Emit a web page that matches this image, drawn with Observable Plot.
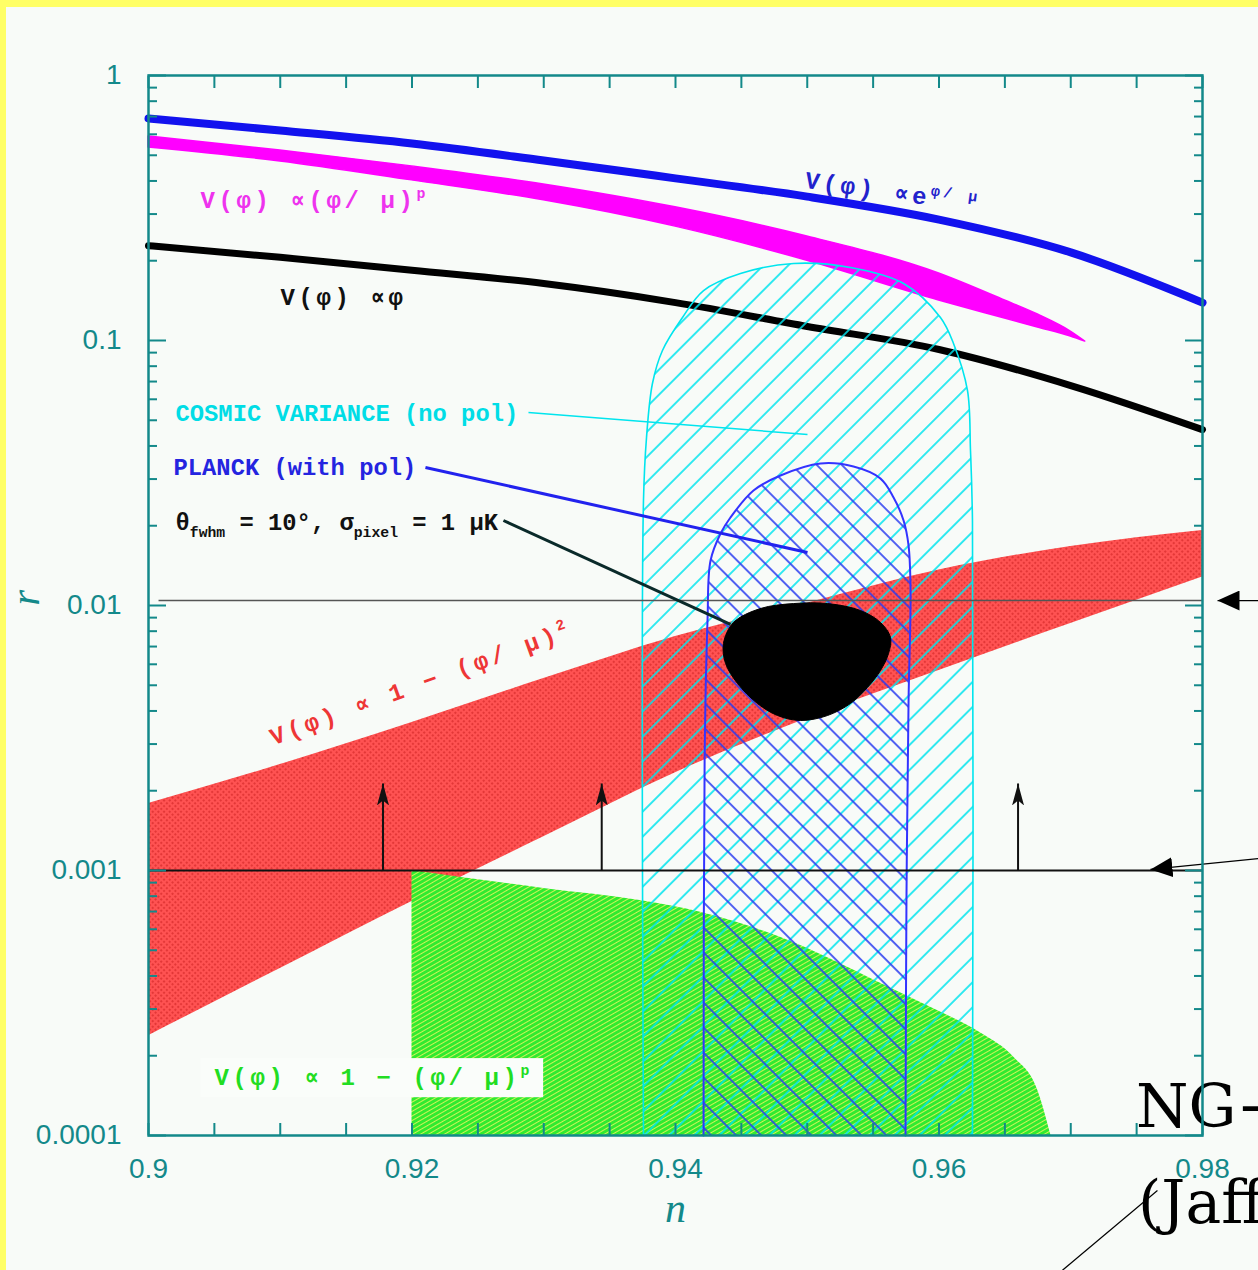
<!DOCTYPE html>
<html><head><meta charset="utf-8">
<script src="https://cdn.jsdelivr.net/npm/d3@7"></script>
<script src="https://cdn.jsdelivr.net/npm/@observablehq/plot@0.6"></script>
<style>
html,body{margin:0;padding:0;overflow:hidden;background:#f8fbf8;}
#wrap{position:relative;width:1258px;height:1270px;overflow:hidden;}
.ys-top{position:absolute;left:0;top:0;width:1258px;height:7px;background:#ffff66;}
.ys-left{position:absolute;left:0;top:0;width:6px;height:1270px;background:#ffff66;}
</style></head><body>
<svg width="0" height="0" style="position:absolute">
<defs>
  <pattern id="hatchCyan" width="17.7" height="17.7" patternUnits="userSpaceOnUse" patternTransform="rotate(45)">
    <line x1="1" y1="0" x2="1" y2="17.7" stroke="#00e5ee" stroke-width="1.6"/>
  </pattern>
  <pattern id="hatchBlue" width="17.7" height="17.7" patternUnits="userSpaceOnUse" patternTransform="rotate(-45)">
    <line x1="1" y1="0" x2="1" y2="17.7" stroke="#2a3cf0" stroke-width="1.6"/>
  </pattern>
  <pattern id="redTex" width="4" height="4" patternUnits="userSpaceOnUse" patternTransform="rotate(45)">
    <rect width="4" height="4" fill="#ff5252"/>
    <circle cx="2" cy="2" r="1.1" fill="#dd3030"/>
  </pattern>
  <pattern id="greenTex" width="4" height="4" patternUnits="userSpaceOnUse" patternTransform="rotate(60)">
    <rect width="4" height="4" fill="#30ea30"/>
    <line x1="0.5" y1="0" x2="0.5" y2="4" stroke="#d0f258" stroke-width="1"/>
  </pattern>
  <marker id="ahSmall" viewBox="0 0 22 12" refX="22" refY="6" markerWidth="22" markerHeight="12" markerUnits="userSpaceOnUse" orient="auto">
    <path d="M0,0L22,6L0,12L5,6Z" fill="#111"/>
  </marker>
  <marker id="ahBig" viewBox="0 0 22 20" refX="22" refY="10" markerWidth="22" markerHeight="20" markerUnits="userSpaceOnUse" orient="auto">
    <path d="M0,0L22,10L0,20Z" fill="#000"/>
  </marker>
</defs>
</svg>
<div id="wrap"><div id="chart"></div><div class="ys-top"></div><div class="ys-left"></div></div>
<script>
// ---------- data (n = spectral index, r = tensor ratio) ----------
const nGrid = [0.90, 0.91, 0.92, 0.93, 0.94, 0.95, 0.96, 0.97, 0.98];
const rExponential = [0.688, 0.620, 0.554, 0.478, 0.409, 0.349, 0.286, 0.215, 0.139];
const rLinear = [0.228, 0.206, 0.184, 0.164, 0.139, 0.113, 0.0925, 0.0676, 0.0461];
const rRedUpper = [0.00179, 0.00251, 0.00362, 0.0053, 0.00764, 0.0102, 0.0136, 0.0167, 0.0192];
const rRedLower = [0.000238, 0.000427, 0.000764, 0.00134, 0.00234, 0.00375, 0.00569, 0.00855, 0.0128];

const nMagenta = [0.90, 0.91, 0.92, 0.93, 0.94, 0.95, 0.96, 0.965, 0.9675, 0.970, 0.9711];
const rMagentaUpper = [0.589, 0.521, 0.454, 0.388, 0.318, 0.247, 0.179, 0.1416, 0.1253, 0.1081, 0.0991];
const rMagentaLower = [0.535, 0.474, 0.402, 0.338, 0.269, 0.200, 0.1416, 0.1211, 0.1120, 0.1035, 0.0991];

const nGreen = [0.92, 0.93, 0.9373, 0.9419, 0.948, 0.9556, 0.9594, 0.9632, 0.9657, 0.9675, 0.9685];
const rGreenTop = [0.001, 0.000855, 0.00077, 0.000695, 0.000559, 0.000375, 0.000304, 0.000243, 0.000197, 0.000148, 0.0001];

const nCosmic = [0.93757, 0.93757, 0.9378, 0.93825, 0.93901, 0.94053, 0.94213, 0.94493, 0.94896, 0.95328, 0.95731, 0.96011, 0.9611, 0.96216, 0.96239, 0.96254, 0.96254];
const rCosmic = [0.0001, 0.02489, 0.04305, 0.06882, 0.09169, 0.1221, 0.1544, 0.1790, 0.1953, 0.1886, 0.1641, 0.1221, 0.09743, 0.06477, 0.03845, 0.02093, 0.0001];

const nPlanck = [0.94213, 0.94221, 0.94243, 0.94266, 0.94342, 0.94417, 0.94592, 0.94797, 0.95101, 0.95351, 0.95556, 0.95655, 0.95731, 0.95769, 0.95784, 0.95769, 0.95753, 0.95746];
const rPlanck = [0.0001, 0.002601, 0.008777, 0.01478, 0.01869, 0.02148, 0.02716, 0.03094, 0.03434, 0.03346, 0.03015, 0.02556, 0.02093, 0.01684, 0.0114, 0.00438, 0.00077, 0.0001];

const nBlob = [0.94440, 0.94645, 0.94896, 0.95154, 0.95404, 0.95556, 0.95632, 0.95617, 0.95556, 0.95457, 0.95328, 0.95154, 0.94949, 0.94774, 0.94622, 0.94471, 0.94380, 0.94364];
const rBlob = [0.008626, 0.009743, 0.01017, 0.01017, 0.009575, 0.008626, 0.007570, 0.006590, 0.005686, 0.004905, 0.004268, 0.003845, 0.003681, 0.003845, 0.004268, 0.005077, 0.006041, 0.007189];

const arrowN = [0.9178, 0.9344, 0.9660];
const arrowBase = 0.001, arrowTip = 0.00213;
const limitR = 0.001, upperLineR = 0.01044;

// ticks
const xTickValues = [0.90, 0.92, 0.94, 0.96, 0.98];
const xTickLabels = ["0.9", "0.92", "0.94", "0.96", "0.98"];
const xMinorTicks = [0.900,0.905,0.910,0.915,0.920,0.925,0.930,0.935,0.940,0.945,0.950,0.955,0.960,0.965,0.970,0.975,0.980];
const yTickValues = [0.0001, 0.001, 0.01, 0.1, 1];
const yTickLabels = ["0.0001", "0.001", "0.01", "0.1", "1"];
const yMinorMult = [2, 3, 4, 5, 6, 7, 8, 9];
const yMinorTicks = yTickValues.slice(0, -1).flatMap(d => yMinorMult.map(k => k * d));

// ---------- tables ----------
const expData = nGrid.map((n, i) => ({n, r: rExponential[i]}));
const linData = nGrid.map((n, i) => ({n, r: rLinear[i]}));
const redData = nGrid.map((n, i) => ({n, lo: rRedLower[i], hi: rRedUpper[i]}));
const magData = nMagenta.map((n, i) => ({n, lo: rMagentaLower[i], hi: rMagentaUpper[i]}));
const greenData = nGreen.map((n, i) => ({n, r: rGreenTop[i]}));
const cosmicData = nCosmic.map((n, i) => ({n, r: rCosmic[i]}));
const planckData = nPlanck.map((n, i) => ({n, r: rPlanck[i]}));
const blobData = nBlob.map((n, i) => ({n, r: rBlob[i]}));

const teal = "#13898a";
const vFont = {fontFamily: "Liberation Mono, DejaVu Sans Mono, monospace", fontWeight: "bold", fontSize: 24};
const aFont = {fontFamily: "Liberation Mono, DejaVu Sans Mono, monospace", fontWeight: "bold", fontSize: 23.8};

const one = (o) => [o];

const chart = Plot.plot({
  width: 1258, height: 1270,
  marginLeft: 148, marginRight: 56, marginTop: 75, marginBottom: 135,
  x: {domain: [0.9, 0.98]},
  y: {type: "log", domain: [1e-4, 1]},
  style: {background: "#f8fbf8", overflow: "visible", fontFamily: "Liberation Sans, Arial, sans-serif"},
  marks: [
    Plot.areaY(redData, {x: "n", y1: "lo", y2: "hi", fill: "url(#redTex)", curve: "monotone-x"}),
    Plot.areaY(greenData, {x: "n", y1: 1e-4, y2: "r", fill: "url(#greenTex)", curve: "monotone-x"}),
    Plot.line(linData, {x: "n", y: "r", stroke: "#000", strokeWidth: 7, curve: "monotone-x"}),
    Plot.areaY(magData, {x: "n", y1: "lo", y2: "hi", fill: "#ff00ff", stroke: "#ff00ff", strokeWidth: 1.5, curve: "monotone-x"}),
    Plot.line(expData, {x: "n", y: "r", stroke: "#1212ee", strokeWidth: 8, curve: "monotone-x"}),
    Plot.line(cosmicData, {x: "n", y: "r", fill: "url(#hatchCyan)", stroke: "#00e5ee", strokeWidth: 1.6, curve: "catmull-rom"}),
    Plot.line(planckData, {x: "n", y: "r", fill: "url(#hatchBlue)", stroke: "#3333ff", strokeWidth: 2, curve: "catmull-rom"}),
    Plot.line(blobData, {x: "n", y: "r", fill: "#000", stroke: "#000", strokeWidth: 1, curve: "catmull-rom-closed"}),
    Plot.ruleY([limitR], {stroke: "#111", strokeWidth: 2}),
    Plot.ruleY([upperLineR], {x1: 0.9008, x2: 0.98, stroke: "#555", strokeWidth: 1.5}),
    Plot.link(arrowN, {x1: d => d, x2: d => d, y1: () => arrowBase, y2: () => arrowTip, stroke: "#111", strokeWidth: 2, ariaDescription: "arrow-small"}),
    // pointer lines from annotations
    Plot.link(one({n1: 0.92884, r1: 0.0535, n2: 0.95002, r2: 0.04418}), {x1: "n1", y1: "r1", x2: "n2", y2: "r2", stroke: "#00e5ee", strokeWidth: 1.5}),
    Plot.link(one({n1: 0.92102, r1: 0.03317, n2: 0.95002, r2: 0.01585}), {x1: "n1", y1: "r1", x2: "n2", y2: "r2", stroke: "#2222ee", strokeWidth: 3}),
    Plot.link(one({n1: 0.92694, r1: 0.02093, n2: 0.94417, r2: 0.008481}), {x1: "n1", y1: "r1", x2: "n2", y2: "r2", stroke: "#0a2a2a", strokeWidth: 3}),
    // outside annotations
    Plot.link([{n1: 0.98425, r1: 0.01044, n2: 0.98114, r2: 0.01044}, {n1: 0.98425, r1: 0.00111, n2: 0.97605, r2: 0.001009}],
      {x1: "n1", y1: "r1", x2: "n2", y2: "r2", stroke: "#000", strokeWidth: 1.2, ariaDescription: "arrow-big"}),
    Plot.link(one({n1: 0.97658, r1: 6.2e-5, n2: 0.96937, r2: 3.1e-5}), {x1: "n1", y1: "r1", x2: "n2", y2: "r2", stroke: "#000", strokeWidth: 1.2}),
    Plot.text(one({n: 0.97495, r: 1.072e-4, t: "NG+"}), {x: "n", y: "r", text: "t", textAnchor: "start", lineAnchor: "bottom", fontFamily: "DejaVu Serif", fontSize: 60, fill: "#000"}),
    Plot.text(one({n: 0.97510, r: 4.69e-5, t: "(Jaffe"}), {x: "n", y: "r", text: "t", textAnchor: "start", lineAnchor: "bottom", fontFamily: "DejaVu Serif", fontSize: 60, fill: "#000"}),
    // curve labels
    Plot.text(one({n: 0.90395, r: 0.3375, t: "V(φ) ∝(φ/ μ)^{p}"}), {x: "n", y: "r", text: "t", textAnchor: "start", fill: "#ee33ee", ariaDescription: "vlabel", ...vFont}),
    Plot.text(one({n: 0.91002, r: 0.1453, t: "V(φ) ∝φ"}), {x: "n", y: "r", text: "t", textAnchor: "start", fill: "#111", ariaDescription: "vlabel", ...vFont}),
    Plot.text(one({n: 0.95647, r: 0.362, t: "V(φ) ∝e^{φ/ μ}"}), {x: "n", y: "r", text: "t", rotate: 8, fill: "#2222cc", ariaDescription: "vlabel", ...vFont}),
    Plot.text(one({n: 0.92065, r: 0.00508, t: "V(φ) ∝ 1 − (φ/ μ)^{2}"}), {x: "n", y: "r", text: "t", rotate: -20, fill: "#ee3636", ariaDescription: "vlabel", ...vFont}),
    Plot.text(one({n: 0.90501, r: 1.655e-4, t: "V(φ) ∝ 1 − (φ/ μ)^{p}"}), {x: "n", y: "r", text: "t", textAnchor: "start", fill: "#22dd22", ariaDescription: "vlabel-box", ...vFont}),
    Plot.text(one({n: 0.90205, r: 0.05302, t: "COSMIC VARIANCE (no pol)"}), {x: "n", y: "r", text: "t", textAnchor: "start", fill: "#00dde6", ...aFont}),
    Plot.text(one({n: 0.90190, r: 0.03317, t: "PLANCK (with pol)"}), {x: "n", y: "r", text: "t", textAnchor: "start", fill: "#2424e0", ...aFont}),
    Plot.text(one({n: 0.90205, r: 0.02056, t: "θ_{fwhm} = 10°, σ_{pixel} = 1 μK"}), {x: "n", y: "r", text: "t", textAnchor: "start", fill: "#111", ...aFont}),
    // frame & axes
    Plot.frame({stroke: teal, strokeWidth: 2.5}),
    Plot.axisX({ticks: xMinorTicks, anchor: "bottom", tickSize: -12, fill: "none", stroke: teal, strokeWidth: 2, label: null}),
    Plot.axisX({ticks: xMinorTicks, anchor: "top", tickSize: -12, fill: "none", stroke: teal, strokeWidth: 2, label: null}),
    Plot.axisX({ticks: xTickValues, anchor: "bottom", tickSize: 0, tickPadding: 23, tickFormat: d => xTickLabels[xTickValues.indexOf(d)], fill: teal, fontSize: 28, label: null}),
    Plot.axisY({ticks: yMinorTicks, anchor: "left", tickSize: -9, fill: "none", stroke: teal, strokeWidth: 2, label: null}),
    Plot.axisY({ticks: yMinorTicks, anchor: "right", tickSize: -9, fill: "none", stroke: teal, strokeWidth: 2, label: null}),
    Plot.axisY({ticks: yTickValues, anchor: "left", tickSize: -18, fill: "none", stroke: teal, strokeWidth: 2, label: null}),
    Plot.axisY({ticks: yTickValues, anchor: "right", tickSize: -18, fill: "none", stroke: teal, strokeWidth: 2, label: null}),
    Plot.axisY({ticks: yTickValues, anchor: "left", tickSize: 0, tickPadding: 27, tickFormat: d => yTickLabels[yTickValues.indexOf(d)], fill: teal, fontSize: 28, label: null}),
    Plot.text(["n"], {text: d => d, frameAnchor: "bottom", dy: 86, lineAnchor: "bottom", fontFamily: "Liberation Serif", fontStyle: "italic", fontSize: 42, fill: teal}),
    Plot.text(["r"], {text: d => d, frameAnchor: "left", dx: -122, rotate: -90, fontFamily: "Liberation Serif", fontStyle: "italic", fontSize: 40, fill: teal})
  ]
});

document.getElementById("chart").appendChild(chart);

// ---------- post-processing: arrowheads, letter spacing, sub/superscripts, label box ----------
const NS = "http://www.w3.org/2000/svg";
chart.querySelectorAll('g[aria-description="arrow-small"] path').forEach(p => p.setAttribute("marker-end", "url(#ahSmall)"));
chart.querySelectorAll('g[aria-description="arrow-big"] path').forEach(p => p.setAttribute("marker-end", "url(#ahBig)"));
chart.querySelectorAll('g[aria-description^="vlabel"] text').forEach(t => t.style.letterSpacing = "3.6px");

chart.querySelectorAll("text").forEach(t => {
  const s = t.textContent;
  if (!/[\^_]\{/.test(s)) return;
  const F = parseFloat(getComputedStyle(t).fontSize) || 24;
  while (t.firstChild) t.removeChild(t.firstChild);
  const re = /([\^_])\{([^}]*)\}|([^\^_]+)/g;
  let m, shift = 0;
  while ((m = re.exec(s)) !== null) {
    const ts = document.createElementNS(NS, "tspan");
    if (m[3] !== undefined) {
      ts.textContent = m[3];
      if (shift) ts.setAttribute("dy", -shift);
      shift = 0;
    } else {
      const target = m[1] === "^" ? -0.42 * F : 0.28 * F;
      ts.textContent = m[2];
      ts.setAttribute("font-size", 0.62 * F);
      ts.setAttribute("dy", target - shift);
      shift = target;
    }
    t.appendChild(ts);
  }
});

chart.querySelectorAll('g[aria-description="vlabel-box"] text').forEach(t => {
  const b = t.getBBox();
  const r = document.createElementNS(NS, "rect");
  r.setAttribute("x", b.x - 14);
  r.setAttribute("y", b.y - 5);
  r.setAttribute("width", b.width + 24);
  r.setAttribute("height", b.height + 10);
  r.setAttribute("fill", "#fafdfa");
  if (t.getAttribute("transform")) r.setAttribute("transform", t.getAttribute("transform"));
  t.parentNode.insertBefore(r, t);
});
</script>
</body></html>
